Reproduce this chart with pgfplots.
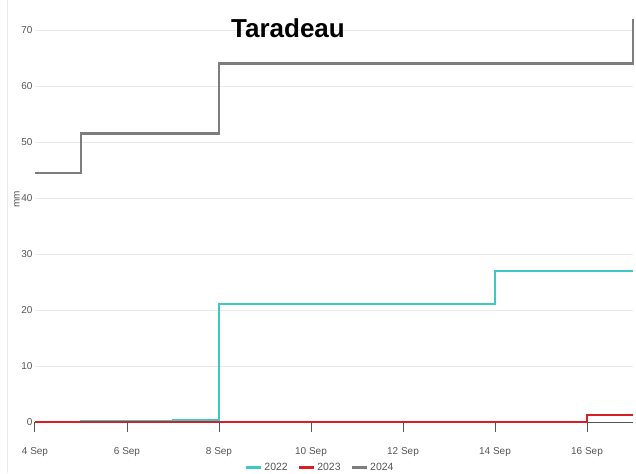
\documentclass[border=0pt]{standalone}
\usepackage{fontspec}
\setmainfont{Liberation Sans}
\usepackage{pgfplots}
\pgfplotsset{compat=1.18}
\definecolor{c22}{RGB}{60,200,196}
\definecolor{c23}{RGB}{214,32,38}
\definecolor{c24}{RGB}{125,125,125}
\definecolor{tickc}{RGB}{85,85,85}
\definecolor{gridc}{RGB}{234,234,234}
\begin{document}
\begin{tikzpicture}
\path[use as bounding box] (-35pt,-51pt) rectangle (601pt,422pt);
\draw[gridc, line width=0.8pt] (-28pt,-51pt) -- (-28pt,422pt);
\begin{axis}[
  at={(0pt,0pt)}, anchor=south west,
  scale only axis, width=598pt, height=403.2pt,
  xmin=4, xmax=17, ymin=0, ymax=72,
  clip=false,
  axis x line*=bottom, axis y line*=left,
  y axis line style={draw=none},
  x axis line style={draw=tickc, line width=0.8pt, -},
  xtick={4,6,8,10,12,14,16},
  xticklabels={4 Sep,6 Sep,8 Sep,10 Sep,12 Sep,14 Sep,16 Sep},
  ytick={0,10,20,30,40,50,60,70},
  ytick style={draw=none},
  x tick style={draw=tickc, line width=1pt},
  major tick length=10pt, tick align=outside,
  ymajorgrids, grid style={gridc, line width=0.8pt},
  tick label style={font=\fontsize{10}{12}\selectfont, text=tickc},
  xticklabel style={yshift=-12pt},
  yticklabel style={xshift=11pt},
  /pgf/number format/assume math mode=true,
  legend style={at={(rel axis cs:0.477,-0.113)}, anchor=center, draw=none, fill=none,
    legend columns=3, font=\fontsize{10.5}{12}\selectfont\color{tickc},
    /tikz/every even column/.append style={column sep=8pt}},
  legend image code/.code={\draw[#1, line width=2.5pt] (0pt,0pt) -- (15pt,0pt);},
]
\addplot[c22, line width=2.2pt, const plot] coordinates {(4,0) (5,0.1) (7,0.3) (8,21) (14,27) (17,27)};
\addlegendentry{2022}
\addplot[c23, line width=2.2pt, const plot] coordinates {(4,0) (16,1.2) (17,1.2)};
\addlegendentry{2023}
\addplot[c24, line width=2.5pt, const plot] coordinates {(4,44.5) (5,51.5) (8,64) (17,72)};
\addlegendentry{2024}
\node[font=\fontsize{26}{30}\selectfont\bfseries] at (axis cs:9.5,70.4) {Taradeau};
\node[xshift=-18pt, rotate=90, font=\fontsize{10}{12}\selectfont, text=tickc] at (axis cs:4,39.8) {mm};
\end{axis}
\end{tikzpicture}
\end{document}
